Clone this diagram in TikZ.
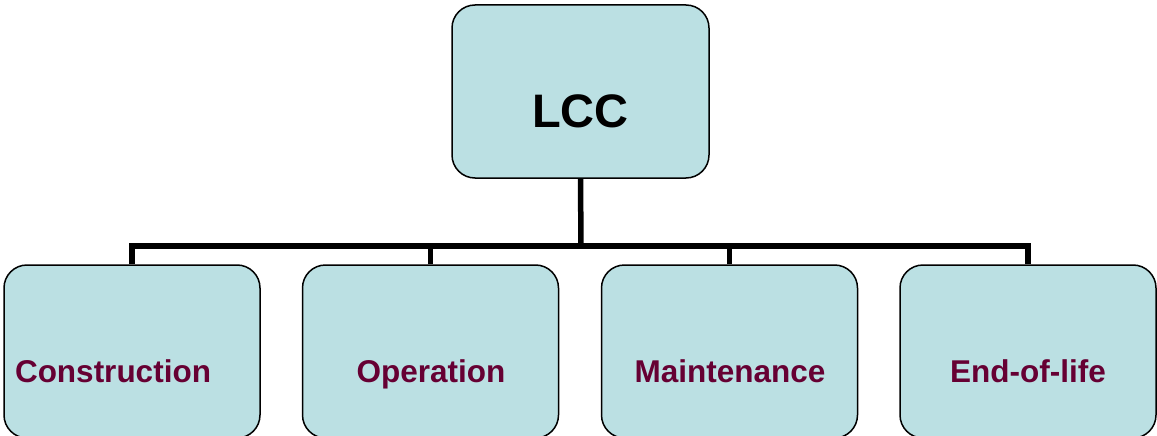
\documentclass[tikz,border=0pt]{standalone}
\usepackage{fontspec}
\setmainfont{Liberation Sans}
\definecolor{boxfill}{RGB}{187,224,227}
\definecolor{maroon}{RGB}{102,0,51}

\begin{document}
\begin{tikzpicture}[x=1pt,y=-1pt,
    phase/.style={draw=black, line width=1.5pt, fill=boxfill, rounded corners=23pt,
      minimum width=256pt, minimum height=173pt, inner sep=0pt},
    top/.style={font=\bfseries\fontsize{47}{47}\selectfont, text=black, anchor=base},
    lbl/.style={font=\bfseries\fontsize{31.5}{32}\selectfont, text=maroon, anchor=base}]
      \useasboundingbox (0,0) rectangle (1157,436);

      % Coordinates for the boxes
      \coordinate (C0) at (580.5, 91.5);
      \coordinate (C1) at (132, 351.5);
      \coordinate (C2) at (430.5, 351.5);
      \coordinate (C3) at (729.5, 351.5);
      \coordinate (C4) at (1028, 351.5);
      \coordinate (bus) at (581, 246);

      % Draw boxes
      \node[phase, minimum width=257pt] (lcc) at (C0) {};
      \node[phase] (con) at (C1) {};
      \node[phase] (ope) at (C2) {};
      \node[phase] (mai) at (C3) {};
      \node[phase] (eol) at (C4) {};

      % Connectors
      \draw[line width=5.5pt] (lcc.south) -- (bus);
      \draw[line width=5.5pt] (con.north) |- (bus);
      \draw[line width=5.5pt] (ope.north) |- (bus);
      \draw[line width=5.5pt] (mai.north) |- (bus);
      \draw[line width=5.5pt] (eol.north) |- (bus);

      % Label the boxes
      \node[top] (tlcc) at (580.5, 127) {LCC};
      \node[lbl] (tcon) at (113, 382) {Construction};
      \node[lbl] (tope) at (431, 382) {Operation};
      \node[lbl] (tmai) at (730, 382) {Maintenance};
      \node[lbl] (teol) at (1028, 382) {End-of-life};
\end{tikzpicture}
\end{document}
